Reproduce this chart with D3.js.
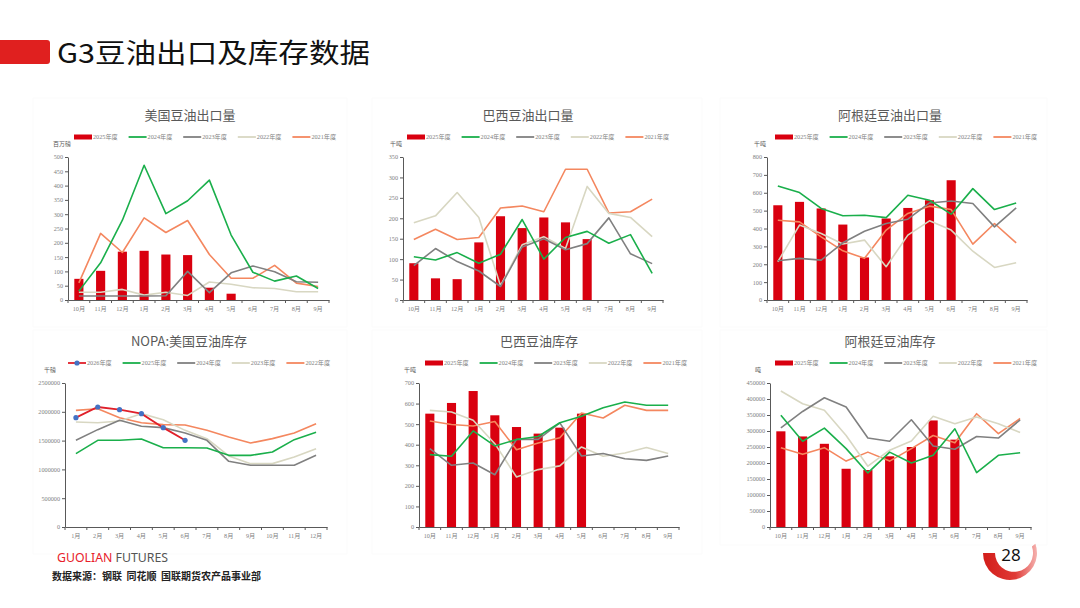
<!DOCTYPE html>
<html>
<head>
<meta charset="utf-8">
<script src="https://cdn.jsdelivr.net/npm/d3@7"></script>
<style>
  body {margin: 0; background: #fff}
  svg {display: block}
</style>
</head>
<body>
<svg id="chart" width="1080" height="608"></svg>
<script>
const cropMonths = ['10月', '11月', '12月', '1月', '2月', '3月', '4月', '5月', '6月', '7月', '8月', '9月']
const calMonths = ['1月', '2月', '3月', '4月', '5月', '6月', '7月', '8月', '9月', '10月', '11月', '12月']
const cropYears = ['2025年度', '2024年度', '2023年度', '2022年度', '2021年度']
const nopaYears = ['2026年度', '2025年度', '2024年度', '2023年度', '2022年度']

// 美国豆油出口量 (百万磅)
const usExp2025 = [74, 102, 169, 172, 159, 157, 43, 22, null, null, null, null]
const usExp2024 = [31, 130, 279, 471, 302, 347, 419, 227, 97, 66, 84, 40]
const usExp2023 = [14, 14, 14, 14, 15, 100, 26, 95, 119, 99, 64, 62]
const usExp2022 = [27, 27, 37, 17, 27, 16, 63, 55, 43, 40, 29, 29]
const usExp2021 = [60, 233, 166, 287, 236, 278, 159, 76, 76, 121, 59, 47]

// 巴西豆油出口量 (千吨)
const brExp2025 = [90, 53, 51, 141, 205, 176, 202, 190, 149, null, null, null]
const brExp2024 = [106, 98, 116, 90, 112, 197, 100, 153, 168, 139, 160, 65]
const brExp2023 = [84, 126, 94, 71, 33, 130, 150, 123, 138, 201, 113, 89]
const brExp2022 = [189, 206, 263, 202, 35, 135, 155, 126, 278, 212, 202, 155]
const brExp2021 = [148, 173, 148, 153, 225, 230, 216, 320, 320, 213, 216, 247]

// 阿根廷豆油出口量 (千吨)
const arExp2025 = [530, 549, 512, 422, 238, 456, 515, 558, 670, null, null, null]
const arExp2024 = [638, 601, 512, 471, 474, 461, 586, 558, 480, 623, 506, 543]
const arExp2023 = [220, 233, 223, 320, 385, 428, 452, 543, 554, 540, 409, 515]
const arExp2022 = [214, 419, 372, 313, 335, 186, 363, 443, 391, 273, 182, 208]
const arExp2021 = [446, 437, 353, 275, 233, 391, 484, 525, 506, 313, 428, 320]

// NOPA:美国豆油库存 (千磅)
const nopa2026 = [1898000, 2083000, 2037000, 1968000, 1725000, 1505000, null, null, null, null, null, null]
const nopa2025 = [1273000, 1505000, 1505000, 1528000, 1377000, 1377000, 1372000, 1244000, 1244000, 1302000, 1516000, 1644000]
const nopa2024 = [1505000, 1690000, 1852000, 1748000, 1725000, 1632000, 1505000, 1140000, 1071000, 1071000, 1071000, 1244000]
const nopa2023 = [1823000, 1811000, 1840000, 1968000, 1863000, 1678000, 1534000, 1233000, 1100000, 1100000, 1215000, 1360000]
const nopa2022 = [2025000, 2054000, 1898000, 1811000, 1777000, 1771000, 1678000, 1563000, 1458000, 1534000, 1632000, 1794000]

// 巴西豆油库存 (千吨)
const brStk2025 = [551, 603, 661, 543, 486, 454, 483, 551, null, null, null, null]
const brStk2024 = [352, 344, 467, 394, 425, 440, 507, 538, 580, 608, 592, 592]
const brStk2023 = [381, 300, 311, 254, 426, 426, 506, 345, 357, 332, 324, 345]
const brStk2022 = [567, 559, 519, 405, 243, 279, 297, 389, 344, 360, 386, 357]
const brStk2021 = [515, 498, 491, 513, 376, 408, 434, 554, 530, 592, 567, 567]

// 阿根廷豆油库存 (吨)
const arStk2025 = [299000, 283000, 260000, 182000, 178000, 221000, 250000, 333000, 273000, null, null, null]
const arStk2024 = [349000, 268000, 309000, 245000, 169000, 234000, 200000, 224000, 307000, 170000, 224000, 232000]
const arStk2023 = [310000, 361000, 404000, 375000, 278000, 268000, 335000, 253000, 243000, 283000, 278000, 335000]
const arStk2022 = [425000, 385000, 365000, 286000, 190000, 240000, 269000, 346000, 323000, 344000, 323000, 295000]
const arStk2021 = [248000, 227000, 248000, 206000, 234000, 206000, 245000, 286000, 263000, 354000, 292000, 339000]

const RED = '#d9000f'
const GREEN = '#1aaf4b'
const GRAY = '#808080'
const BEIGE = '#d8d7c2'
const ORANGE = '#f4875f'
const BLUE = '#4472c4'
const serif = '"Liberation Serif", "Noto Sans CJK SC", serif'
const cjk = '"Noto Sans CJK SC", sans-serif'

// layout for each small chart
const panels = [
  {title: '美国豆油出口量', unit: '百万磅', months: cropMonths, years: cropYears, max: 500, step: 50,
    bars: usExp2025, lines: [usExp2024, usExp2023, usExp2022, usExp2021],
    x0: 68, x1: 329, top: 157, bot: 300, tx: 190, legY: 137, legX: 74, ux: 53, uy: 150},
  {title: '巴西豆油出口量', unit: '千吨', months: cropMonths, years: cropYears, max: 350, step: 50,
    bars: brExp2025, lines: [brExp2024, brExp2023, brExp2022, brExp2021],
    x0: 403, x1: 663, top: 157, bot: 300, tx: 528, legY: 137, legX: 407, ux: 390, uy: 150},
  {title: '阿根廷豆油出口量', unit: '千吨', months: cropMonths, years: cropYears, max: 800, step: 100,
    bars: arExp2025, lines: [arExp2024, arExp2023, arExp2022, arExp2021],
    x0: 767, x1: 1027, top: 157, bot: 300, tx: 890, legY: 137, legX: 775, ux: 754, uy: 150},
  {title: 'NOPA:美国豆油库存', unit: '千磅', months: calMonths, years: nopaYears, max: 2500000, step: 500000,
    dots: nopa2026, lines: [nopa2025, nopa2024, nopa2023, nopa2022],
    x0: 65, x1: 327, top: 383, bot: 527, tx: 189, legY: 363, legX: 68, ux: 44, uy: 376},
  {title: '巴西豆油库存', unit: '千吨', months: cropMonths, years: cropYears, max: 700, step: 100,
    bars: brStk2025, lines: [brStk2024, brStk2023, brStk2022, brStk2021],
    x0: 419, x1: 679, top: 383, bot: 527, tx: 539, legY: 363, legX: 425, ux: 404, uy: 376},
  {title: '阿根廷豆油库存', unit: '吨', months: cropMonths, years: cropYears, max: 450000, step: 50000,
    bars: arStk2025, lines: [arStk2024, arStk2023, arStk2022, arStk2021],
    x0: 770, x1: 1031, top: 383, bot: 527, tx: 890, legY: 363, legX: 775, ux: 755, uy: 376}
]
const lineColors = [GREEN, GRAY, BEIGE, ORANGE]

const svg = d3.select('#chart')

// very faint frames behind the charts
const frames = [[33, 98, 314, 229], [372, 98, 330, 229], [720, 98, 327, 229],
  [33, 330, 314, 224], [372, 330, 330, 224], [720, 330, 327, 215]]
svg.selectAll('rect.frame').data(frames).join('rect').attr('class', 'frame')
  .attr('x', d => d[0]).attr('y', d => d[1]).attr('width', d => d[2]).attr('height', d => d[3])
  .attr('fill', 'none').attr('stroke', '#f9f9f9').attr('stroke-width', 0.6)

// page header
svg.append('rect').attr('x', -6).attr('y', 40).attr('width', 56).attr('height', 24).attr('rx', 3).attr('fill', '#e0201f')
svg.append('text').attr('x', 57).attr('y', 63).attr('font-family', cjk).attr('font-size', 27).attr('font-weight', 400)
  .attr('fill', '#111').attr('textLength', 313).attr('lengthAdjust', 'spacingAndGlyphs').text('G3豆油出口及库存数据')

panels.forEach(p => {
  const g = svg.append('g')
  const x = d3.scaleBand().domain(p.months).range([p.x0, p.x1])
  const y = d3.scaleLinear().domain([0, p.max]).range([p.bot, p.top])
  const bw = x.bandwidth()
  const cx = i => x(p.months[i]) + bw / 2

  g.append('text').attr('x', p.tx).attr('y', p.top - 37).attr('text-anchor', 'middle')
    .attr('font-family', cjk).attr('font-size', 13).attr('fill', '#595959').text(p.title)
  g.append('text').attr('x', p.ux).attr('y', p.uy - 4).attr('font-family', cjk).attr('font-size', 6)
    .attr('fill', '#595959').text(p.unit)

  // legend
  p.years.forEach((yr, i) => {
    const lx = p.legX + i * 54.6
    if (i === 0 && p.bars) {
      g.append('rect').attr('x', lx).attr('y', p.legY - 2.5).attr('width', 18).attr('height', 5).attr('fill', RED)
    } else if (i === 0) {
      g.append('line').attr('x1', lx).attr('x2', lx + 18).attr('y1', p.legY).attr('y2', p.legY)
        .attr('stroke', '#e0202a').attr('stroke-width', 1.8)
      g.append('circle').attr('cx', lx + 9).attr('cy', p.legY).attr('r', 2.6).attr('fill', BLUE)
    } else {
      g.append('line').attr('x1', lx).attr('x2', lx + 18).attr('y1', p.legY).attr('y2', p.legY)
        .attr('stroke', lineColors[i - 1]).attr('stroke-width', 1.8)
    }
    g.append('text').attr('x', lx + 19).attr('y', p.legY + 2.2).attr('font-family', serif).attr('font-size', 6.2)
      .attr('fill', '#7f7f7f').text(yr)
  })

  // bars
  if (p.bars) {
    p.bars.forEach((v, i) => {
      if (v == null) return
      g.append('rect').attr('x', cx(i) - bw * 0.21).attr('width', bw * 0.42)
        .attr('y', y(v)).attr('height', y(0) - y(v)).attr('fill', RED)
    })
  }

  const line = d3.line().defined(d => d != null).x((d, i) => cx(i)).y(d => y(d))
  p.lines.slice().reverse().forEach((s, k) => {
    const ci = p.lines.length - 1 - k
    g.append('path').attr('d', line(s)).attr('fill', 'none')
      .attr('stroke', lineColors[ci]).attr('stroke-width', 1.6).attr('stroke-linejoin', 'round')
  })
  if (p.dots) {
    g.append('path').attr('d', line(p.dots)).attr('fill', 'none').attr('stroke', '#e0202a').attr('stroke-width', 1.8)
    p.dots.forEach((v, i) => {
      if (v == null) return
      g.append('circle').attr('cx', cx(i)).attr('cy', y(v)).attr('r', 2.6).attr('fill', BLUE)
    })
  }

  // y axis
  const yAxis = d3.axisLeft(y).tickValues(d3.range(0, p.max + 1, p.step)).tickSize(3).tickSizeOuter(0).tickFormat(d3.format('d'))
  const ya = g.append('g').attr('transform', `translate(${p.x0},0)`).call(yAxis)
  ya.select('.domain').attr('stroke', '#595959')
  ya.selectAll('line').attr('stroke', '#595959')
  ya.selectAll('text').attr('font-family', serif).attr('font-size', 6.2).attr('fill', '#7f7f7f').attr('dx', 1)

  // x axis
  const xAxis = d3.axisBottom(x).tickSize(0).tickSizeOuter(0)
  const xa = g.append('g').attr('transform', `translate(0,${p.bot})`).call(xAxis)
  xa.select('.domain').attr('stroke', '#595959')
  xa.selectAll('text').attr('font-family', serif).attr('font-size', 6.2).attr('fill', '#7f7f7f').attr('dy', '1.35em')
  const edges = p.months.map(m => x(m)).concat([p.x1])
  g.selectAll(null).data(edges).join('line')
    .attr('x1', d => d).attr('x2', d => d).attr('y1', p.bot).attr('y2', p.bot + 3).attr('stroke', '#595959')
})

// footer
const brand = svg.append('text').attr('x', 57).attr('y', 562).attr('font-family', '"Noto Sans", sans-serif')
  .attr('font-size', 12.5).attr('textLength', 111).attr('lengthAdjust', 'spacingAndGlyphs')
brand.append('tspan').attr('fill', '#e8202a').text('GUOLIAN ')
brand.append('tspan').attr('fill', '#555').text('FUTURES')
svg.append('text').attr('x', 52).attr('y', 580).attr('font-family', cjk).attr('font-size', 10).attr('font-weight', 700)
  .attr('fill', '#222').text('数据来源：钢联\u00a0\u00a0同花顺\u00a0\u00a0国联期货农产品事业部')

// page number badge
const grad = svg.append('defs').append('linearGradient').attr('id', 'arcGrad').attr('x1', 0).attr('x2', 1).attr('y1', 0).attr('y2', 0)
grad.append('stop').attr('offset', '0%').attr('stop-color', '#d21d1a')
grad.append('stop').attr('offset', '60%').attr('stop-color', '#e03a36')
grad.append('stop').attr('offset', '100%').attr('stop-color', '#f5b3b0')
svg.append('path').attr('d', 'M983,553 A27,27 0 1 0 1035.4,543.8 L1031.9,546.5 A19,19 0 1 1 995,553 Z').attr('fill', 'url(#arcGrad)')
svg.append('text').attr('x', 1011).attr('y', 561).attr('text-anchor', 'middle').attr('font-family', '"Noto Sans", sans-serif')
  .attr('font-size', 17).attr('fill', '#111').text('28')
</script>
</body>
</html>
